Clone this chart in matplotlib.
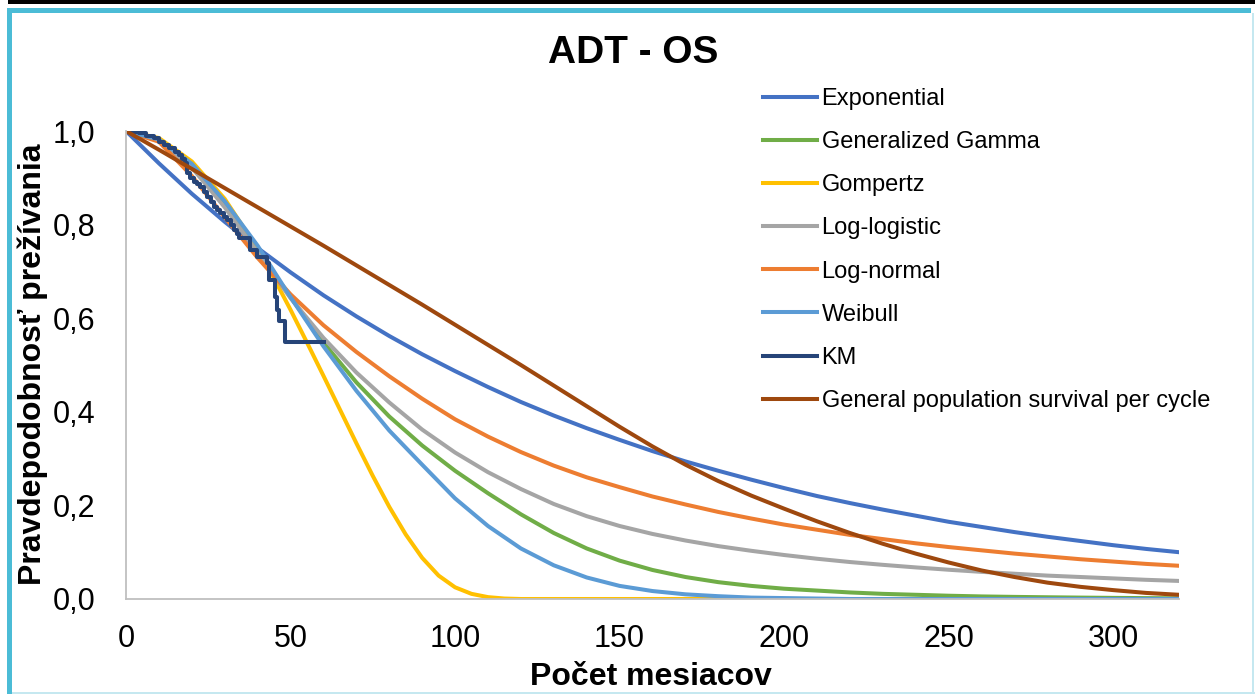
import matplotlib
matplotlib.use("Agg")
import matplotlib.pyplot as plt
from matplotlib.patches import Rectangle

plt.rcParams["font.family"] = ["Liberation Sans", "DejaVu Sans"]

W, H = 1255, 694

# months on the x axis (values read every 10 months)
months = [0, 10, 20, 30, 40, 50, 60, 70, 80, 90, 100, 110, 120, 130, 140, 150, 160,
          170, 180, 190, 200, 210, 220, 230, 240, 250, 260, 270, 280, 290, 300, 310, 320]

exponential = [1.000, 0.931, 0.866, 0.806, 0.750, 0.698, 0.649, 0.604, 0.562, 0.523,
               0.487, 0.453, 0.421, 0.392, 0.365, 0.340, 0.316, 0.294, 0.274, 0.255,
               0.237, 0.220, 0.205, 0.191, 0.178, 0.165, 0.154, 0.143, 0.133, 0.124,
               0.115, 0.107, 0.100]
gen_gamma = [1.000, 0.981, 0.926, 0.843, 0.745, 0.645, 0.548, 0.463, 0.390, 0.328,
             0.274, 0.226, 0.181, 0.141, 0.108, 0.082, 0.062, 0.047, 0.036, 0.028,
             0.022, 0.018, 0.014, 0.011, 0.009, 0.007, 0.0055, 0.0045, 0.0037, 0.003,
             0.0024, 0.0019, 0.0015]
log_logistic = [1.000, 0.980, 0.922, 0.837, 0.740, 0.643, 0.558, 0.484, 0.420, 0.362,
                0.313, 0.271, 0.235, 0.203, 0.177, 0.156, 0.139, 0.125, 0.113, 0.103,
                0.094, 0.086, 0.079, 0.073, 0.0675, 0.0625, 0.058, 0.054, 0.050, 0.047,
                0.044, 0.041, 0.0386]
log_normal = [1.000, 0.977, 0.904, 0.816, 0.729, 0.651, 0.585, 0.528, 0.476, 0.428,
              0.384, 0.347, 0.314, 0.285, 0.260, 0.239, 0.219, 0.202, 0.186, 0.172,
              0.159, 0.148, 0.137, 0.128, 0.119, 0.111, 0.104, 0.097, 0.091, 0.085,
              0.080, 0.075, 0.071]
weibull = [1.000, 0.982, 0.930, 0.850, 0.755, 0.645, 0.540, 0.445, 0.360, 0.287,
           0.215, 0.156, 0.108, 0.072, 0.046, 0.028, 0.017, 0.010, 0.006, 0.003,
           0.002, 0.001, 0.000, 0.000, 0.000, 0.000, 0.000, 0.000, 0.000, 0.000,
           0.000, 0.000, 0.000]
gen_pop = [1.000, 0.960, 0.919, 0.878, 0.837, 0.796, 0.755, 0.713, 0.671, 0.629,
           0.586, 0.543, 0.500, 0.456, 0.412, 0.368, 0.326, 0.287, 0.252, 0.221,
           0.193, 0.166, 0.141, 0.118, 0.097, 0.078, 0.061, 0.047, 0.035, 0.026,
           0.019, 0.013, 0.009]

# Gompertz drops fast, so it is read on a finer grid
gomp_months = [0, 10, 20, 30, 40, 45, 50, 55, 60, 65, 70, 75, 80, 85, 90, 95, 100,
               105, 110, 115, 120, 160, 200, 260, 320]
gompertz = [1.000, 0.985, 0.935, 0.855, 0.748, 0.685, 0.618, 0.548, 0.477, 0.405,
            0.333, 0.263, 0.197, 0.138, 0.088, 0.050, 0.025, 0.011, 0.004, 0.001,
            0.000, 0.000, 0.000, 0.000, 0.000]

# Kaplan-Meier steps
km_t = [0, 2, 4, 6, 8.4, 10, 11.4, 13, 15, 16, 17, 18, 18.6, 19.5, 20.6, 21.5, 22.6,
        23.6, 24.7, 25.7, 26.7, 27.7, 28.7, 29.8, 30.8, 31.8, 32.8, 33.6, 34.3, 37.6,
        39.7, 42.7, 43.5, 45.3, 45.8, 46.5, 48.3, 60.3]
km_s = [1.000, 0.998, 0.995, 0.990, 0.984, 0.977, 0.970, 0.963, 0.956, 0.949, 0.940,
        0.931, 0.910, 0.900, 0.892, 0.887, 0.881, 0.870, 0.860, 0.849, 0.838, 0.831,
        0.824, 0.817, 0.810, 0.799, 0.788, 0.779, 0.771, 0.746, 0.731, 0.717, 0.682,
        0.646, 0.617, 0.593, 0.550, 0.550]

x_ticks = [0, 50, 100, 150, 200, 250, 300]
y_ticks = [0.0, 0.2, 0.4, 0.6, 0.8, 1.0]
y_tick_labels = ["0,0", "0,2", "0,4", "0,6", "0,8", "1,0"]

fig = plt.figure(figsize=(W / 100, H / 100), dpi=100)
ax = fig.add_axes([126 / W, 1 - 599 / H, (1179 - 126) / W, (599 - 131) / H])

lw = 2.9
ax.plot(months, exponential, color="#4472C4", lw=lw, label="Exponential")
ax.plot(months, gen_gamma, color="#70AD47", lw=lw, label="Generalized Gamma")
ax.plot(gomp_months, gompertz, color="#FFC000", lw=lw, label="Gompertz")
ax.plot(months, log_logistic, color="#A5A5A5", lw=lw, label="Log-logistic")
ax.plot(months, log_normal, color="#ED7D31", lw=lw, label="Log-normal")
ax.plot(months, weibull, color="#5B9BD5", lw=lw, label="Weibull")
ax.plot(km_t, km_s, color="#264478", lw=lw, drawstyle="steps-post", label="KM")
ax.plot(months, gen_pop, color="#9E480E", lw=lw, label="General population survival per cycle")

ax.set_xlim(0, 320)
ax.set_ylim(0, 1)
ax.set_xticks(x_ticks)
ax.set_yticks(y_ticks)
ax.set_yticklabels(y_tick_labels)
ax.tick_params(axis="both", length=0, labelsize=22)
ax.tick_params(axis="x", pad=18)
ax.tick_params(axis="y", pad=22)
for s in ["top", "right"]:
    ax.spines[s].set_visible(False)
for s in ["left", "bottom"]:
    ax.spines[s].set_color("#BFBFBF")
    ax.spines[s].set_linewidth(1.3)

ax.legend(loc="upper left", bbox_to_anchor=(763 / W, 1 - 88 / H),
          bbox_transform=fig.transFigure, frameon=False, fontsize=17,
          borderaxespad=0, borderpad=0, handlelength=2.28, handletextpad=0.2,
          labelspacing=0.895)

fig.text(633 / W, 1 - 53 / H, "ADT - OS", ha="center", va="center",
         fontsize=28, fontweight="bold")
fig.text(651 / W, 1 - 685 / H, "Počet mesiacov", ha="center", va="baseline",
         fontsize=23, fontweight="bold")
fig.text(33 / W, 1 - 364 / H, "Pravdepodobnosť prežívania", ha="center", va="center",
         rotation=90, fontsize=23, fontweight="bold")

# chart frame
def px_rect(x0, y0, x1, y1, color):
    fig.add_artist(Rectangle((x0 / W, 1 - y1 / H), (x1 - x0) / W, (y1 - y0) / H,
                             transform=fig.transFigure, color=color, lw=0))

px_rect(8, 0.5, W, 4, "black")
px_rect(7, 8, 1251, 13, "#4BBCD6")
px_rect(7, 8, 12, H, "#4BBCD6")
px_rect(12, 691.5, W, H, "#C5E8F0")
px_rect(1251.5, 13, 1253.5, H, "#C5E8F0")

fig.savefig("out.png", dpi=100)
